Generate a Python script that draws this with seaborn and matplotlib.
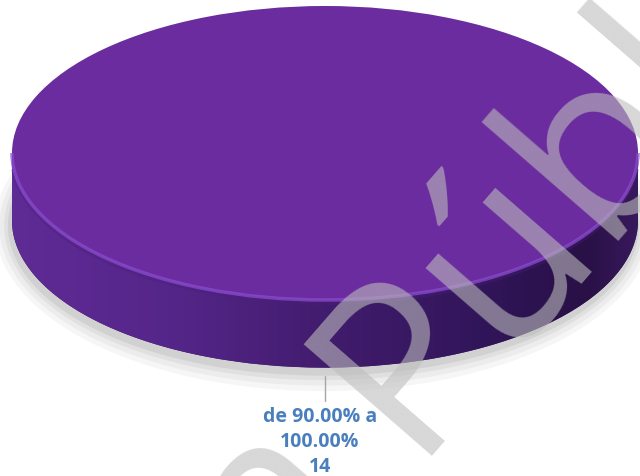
import numpy as np
import matplotlib
matplotlib.use("Agg")
import matplotlib.pyplot as plt
from matplotlib.colors import LinearSegmentedColormap
from matplotlib.patches import Arc, Ellipse, Polygon
import seaborn as sns

# ---- data ----
categories = ["de 90.00% a 100.00%"]
label_lines = ["de 90.00% a", "100.00%"]
counts = [14]
watermark_words = ["Versión", "Pública"]

sns.set_theme(style="white")
plt.rcParams["font.family"] = ["Open Sans", "DejaVu Sans"]

fig = plt.figure(figsize=(6.4, 4.76), dpi=100)
fig.patch.set_facecolor("white")
ax = fig.add_axes([0, 0, 1, 1])
ax.set_facecolor("white")

h = 0.46  # thickness of the 3D disc (in y-units of the pie)
top_color = "#6A2C9E"

# soft shadow under the disc
for grow, a in [(0.05, 0.05), (0.035, 0.06), (0.02, 0.08), (0.008, 0.1)]:
    ax.add_patch(Ellipse((-0.005, -h - 0.035), 2 + 2 * grow, 2 + 5 * grow,
                         facecolor="#555555", edgecolor="none", alpha=a, zorder=0))

# bottom (base) of the disc
ax.pie(counts, center=(0, -h), radius=1, colors=["#3a1a5e"], startangle=90,
       counterclock=False, frame=True, wedgeprops=dict(linewidth=0, zorder=1))

# side wall with horizontal gradient, clipped to the side region
t = np.linspace(np.pi, 2 * np.pi, 300)
side_pts = np.vstack([[[-1, 0.0], [-1, -h]],
                      np.column_stack([np.cos(t), np.sin(t) - h]),
                      [[1, -h], [1, 0.0]]])
side_poly = Polygon(side_pts, closed=True, facecolor="none", edgecolor="none",
                    transform=ax.transData)
ax.add_patch(side_poly)
side_cmap = LinearSegmentedColormap.from_list(
    "side", [(0.0, "#5f2b95"), (0.25, "#55268a"), (0.5, "#421c6e"),
             (0.75, "#31155a"), (0.92, "#291046"), (1.0, "#38195c")])
grad = np.linspace(0, 1, 512).reshape(1, -1)
im = ax.imshow(grad, extent=[-1, 1, -1 - h, 0], cmap=side_cmap, aspect="auto",
               zorder=2, interpolation="bicubic")
im.set_clip_path(side_poly)

# top face
wedges, _ = ax.pie(counts, center=(0, 0), radius=1, colors=[top_color], startangle=90,
                   counterclock=False, frame=True, wedgeprops=dict(linewidth=0, zorder=3))

# bevel highlight along the front rim
ax.add_patch(Arc((0, 0), 2, 2, theta1=180, theta2=360, color="#8a4cce",
                 linewidth=2.5, alpha=0.75, zorder=4))
ax.add_patch(Arc((0, -0.02), 2, 2, theta1=185, theta2=355, color="#4a2078",
                 linewidth=3, alpha=0.35, zorder=2.5))

# axis limits: map disc into the figure
cx_px, cy_px, a_px, b_px = 325, 153, 313, 147
ax.set_xlim(-cx_px / a_px, (640 - cx_px) / a_px)
ax.set_ylim(-(476 - cy_px) / b_px, cy_px / b_px)
ax.set_aspect("auto")
ax.axis("off")

# leader line and data label
y0 = -1 - h
ax.plot([0, 0], [y0 - 0.06, y0 - 0.23], color="#a6a6a6", linewidth=1, zorder=5)
label = "\n".join(label_lines + [str(counts[0])])
ax.text(-0.016, y0 - 0.27, label, ha="center", va="top", fontsize=14,
        fontweight="bold", color="#4a7fbd", linespacing=1.32, zorder=6,
        family=["Open Sans", "DejaVu Sans"])

# watermark (two words anchored at the start of the second word)
ang = np.deg2rad(49)
ax_px, ay_px = 409, 456          # anchor in pixels from top-left
space_px = 62
wm_kw = dict(rotation=49, rotation_mode="anchor", va="baseline", fontsize=171,
             color=(0.74, 0.74, 0.74), alpha=0.6,
             family=["Open Sans", "DejaVu Sans"], zorder=10)
fig.text(ax_px / 640, 1 - ay_px / 476, watermark_words[1], ha="left", **wm_kw)
bx = ax_px - space_px * np.cos(ang)
by = ay_px + space_px * np.sin(ang)
fig.text(bx / 640, 1 - by / 476, watermark_words[0], ha="right", **wm_kw)

fig.savefig("out.png", dpi=100, facecolor="white")
